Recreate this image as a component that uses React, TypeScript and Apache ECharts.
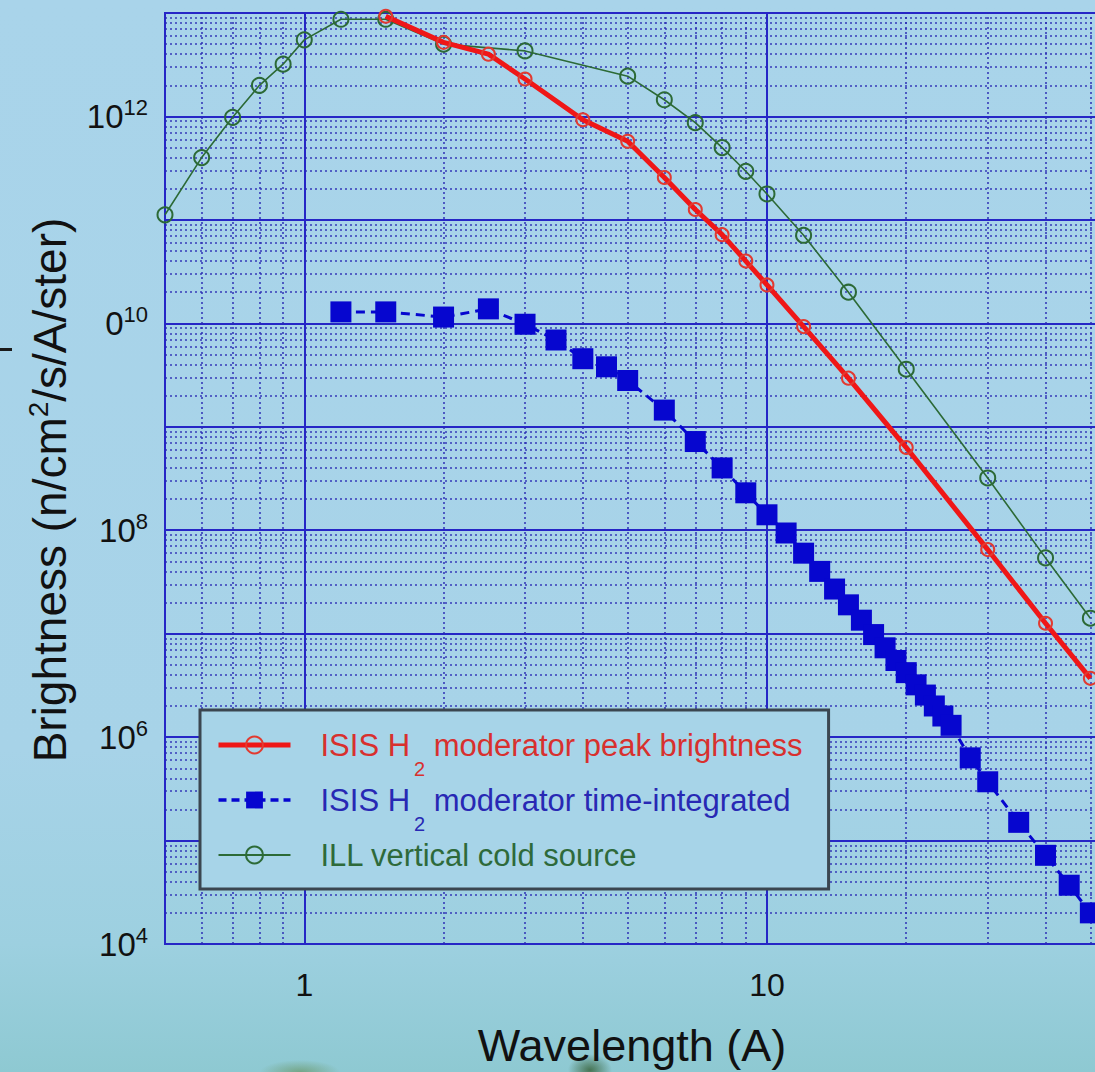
import { useEffect, useRef } from 'react';
import * as echarts from 'echarts';

// Wavelength (Å) and brightness (n/cm²/s/Å/ster) for each source
const wavelengthPeak = [1.5, 2, 2.5, 3, 4, 5, 6, 7, 8, 9, 10, 12, 15, 20, 30, 40, 50];
const brightnessPeak = [
  9.3e12, 5.2e12, 4.0e12, 2.3e12, 9.3e11, 5.75e11, 2.57e11, 1.26e11, 7.2e10, 4.0e10,
  2.35e10, 9.3e9, 2.95e9, 6.3e8, 6.5e7, 1.26e7, 3.7e6,
];

const wavelengthIntegrated = [
  1.2, 1.5, 2, 2.5, 3, 3.5, 4, 4.5, 5, 6, 7, 8, 9, 10, 11, 12, 13, 14, 15, 16, 17, 18, 19,
  20, 21, 22, 23, 24, 25, 27.5, 30, 35, 40, 45, 50,
];
const brightnessIntegrated = [
  1.29e10, 1.29e10, 1.15e10, 1.38e10, 9.8e9, 6.9e9, 4.55e9, 3.8e9, 2.8e9, 1.45e9, 7.2e8,
  4.0e8, 2.3e8, 1.41e8, 9.4e7, 6.0e7, 4.0e7, 2.7e7, 1.9e7, 1.35e7, 9.8e6, 7.3e6, 5.5e6,
  4.2e6, 3.2e6, 2.55e6, 2.0e6, 1.6e6, 1.3e6, 6.3e5, 3.7e5, 1.5e5, 7.2e4, 3.7e4, 2.0e4,
];

const wavelengthILL = [
  0.5, 0.6, 0.7, 0.8, 0.9, 1.0, 1.2, 1.5, 2, 3, 5, 6, 7, 8, 9, 10, 12, 15, 20, 30, 40, 50,
];
const brightnessILL = [
  1.12e11, 4.0e11, 9.8e11, 2.0e12, 3.2e12, 5.5e12, 8.7e12, 8.7e12, 5.0e12, 4.3e12, 2.45e12,
  1.45e12, 8.7e11, 5.0e11, 2.95e11, 1.78e11, 7.1e10, 2.0e10, 3.6e9, 3.2e8, 5.4e7, 1.41e7,
];

const seriesNames = [
  'ISIS H2 moderator peak brightness',
  'ISIS H2 moderator time-integrated',
  'ILL vertical cold source',
];

// Decade labels on the axes
const xTickValues = [1, 10];
const xTickLabels = ['1', '10'];
const yTickExponents = [4, 6, 8, 10, 12];
const yTickBases = ['10', '10', '10', '0', '10'];

// Dotted minor grid at 2..9 of each decade
const minorGridX = [0.6, 0.7, 0.8, 0.9, 2, 3, 4, 5, 6, 7, 8, 9, 20, 30, 40, 50];
const minorGridMultiples = [2, 3, 4, 5, 6, 7, 8, 9];
const minorGridDecades = [4, 5, 6, 7, 8, 9, 10, 11, 12];

const FONT = "'Liberation Sans', Arial, Helvetica, sans-serif";
const RED = '#ef1717';
const BLUE = '#0606cf';
const GREEN = '#2c6a36';
const GRID_BLUE = '#2626c6';

const pairs = (xs: number[], ys: number[]) => xs.map((x, i) => [x, ys[i]]);

const isDecade = (v: number) => Math.abs(Math.log10(v) - Math.round(Math.log10(v))) < 1e-6;

export default function App() {
  const ref = useRef<HTMLDivElement>(null);

  useEffect(() => {
    document.body.style.margin = '0';
    if (!ref.current) return;
    const chart = echarts.init(ref.current, null, { renderer: 'svg' });

    const minorY: number[] = [];
    minorGridDecades.forEach((d) =>
      minorGridMultiples.forEach((m) => minorY.push(m * Math.pow(10, d)))
    );

    chart.setOption({
      animation: false,
      backgroundColor: 'transparent',
      textStyle: { fontFamily: FONT },
      grid: {
        left: 165,
        right: 2,
        top: 13,
        bottom: 128,
        show: true,
        borderColor: GRID_BLUE,
        borderWidth: 2,
        backgroundColor: 'transparent',
      },
      xAxis: {
        type: 'log',
        logBase: 10,
        min: 0.5,
        max: 60,
        axisLine: { show: true, lineStyle: { color: GRID_BLUE, width: 2 } },
        axisTick: { show: false },
        splitLine: { show: true, lineStyle: { color: GRID_BLUE, width: 2 } },
        axisLabel: {
          margin: 25,
          fontSize: 32,
          fontFamily: FONT,
          color: '#111',
          formatter: (v: number) => {
            const i = xTickValues.findIndex((t) => Math.abs(t - v) / t < 1e-6);
            return i >= 0 ? xTickLabels[i] : '';
          },
        },
      },
      yAxis: {
        type: 'log',
        logBase: 10,
        min: 1e4,
        max: 1e13,
        axisLine: { show: true, lineStyle: { color: GRID_BLUE, width: 2 } },
        axisTick: { show: false },
        splitLine: { show: true, lineStyle: { color: GRID_BLUE, width: 2 } },
        axisLabel: {
          margin: 17,
          color: '#111',
          fontFamily: FONT,
          formatter: (v: number) => {
            if (!isDecade(v)) return '';
            const e = Math.round(Math.log10(v));
            const i = yTickExponents.indexOf(e);
            if (i < 0) return '';
            return `{b|${yTickBases[i]}}{s|${e}}`;
          },
          rich: {
            b: { fontSize: 33, lineHeight: 40, color: '#111', fontFamily: FONT },
            s: { fontSize: 22, lineHeight: 22, verticalAlign: 'top', color: '#111', fontFamily: FONT },
          },
        },
      },
      legend: {
        data: [
          { name: seriesNames[0], lineStyle: { width: 5, color: RED }, itemStyle: { color: 'rgba(0,0,0,0)', borderColor: '#e23a30', borderWidth: 2 } },
          { name: seriesNames[1], lineStyle: { width: 3.5, color: BLUE, type: [8, 5] }, itemStyle: { color: BLUE } },
          { name: seriesNames[2], lineStyle: { width: 2, color: GREEN }, itemStyle: { color: 'rgba(0,0,0,0)', borderColor: GREEN, borderWidth: 2 } },
        ],
        orient: 'vertical',
        left: 200,
        top: 710,
        z: 20,
        padding: [1, 26, 0, 16],
        itemGap: -13,
        itemWidth: 72,
        itemHeight: 21,
        backgroundColor: '#a7d4e8',
        borderColor: '#3b4650',
        borderWidth: 3,
        selectedMode: false,
        formatter: (name: string) => {
          if (name === seriesNames[0]) return '{rh|ISIS H}{rs|2}{r| moderator peak brightness}';
          if (name === seriesNames[1]) return '{bh|ISIS H}{bs|2}{b| moderator time-integrated}';
          return '{gh|ILL vertical cold source}{gs| }';
        },
        textStyle: {
          fontFamily: FONT,
          fontSize: 31,
          rich: {
            rh: { color: '#d8302e', fontSize: 31, lineHeight: 36, padding: [0, 0, 0, 25], fontFamily: FONT },
            rs: { color: '#d8302e', fontSize: 20, lineHeight: 20, padding: [48, 0, 0, 4], fontFamily: FONT },
            r: { color: '#d8302e', fontSize: 31, lineHeight: 36, fontFamily: FONT },
            bh: { color: '#2828b4', fontSize: 31, lineHeight: 36, padding: [0, 0, 0, 25], fontFamily: FONT },
            bs: { color: '#2828b4', fontSize: 20, lineHeight: 20, padding: [48, 0, 0, 4], fontFamily: FONT },
            b: { color: '#2828b4', fontSize: 31, lineHeight: 36, fontFamily: FONT },
            gh: { color: '#2e6a3a', fontSize: 31, lineHeight: 36, padding: [0, 0, 0, 25], fontFamily: FONT },
            gs: { color: '#2e6a3a', fontSize: 20, lineHeight: 20, padding: [48, 0, 0, 0], fontFamily: FONT },
          },
        },
      },
      series: [
        {
          name: 'minor-grid',
          type: 'line',
          data: [[1, 1e8]],
          showSymbol: false,
          symbol: 'none',
          lineStyle: { opacity: 0 },
          silent: true,
          z: 1,
          markLine: {
            silent: true,
            z: 1,
            symbol: ['none', 'none'],
            label: { show: false },
            lineStyle: { color: '#2a2ab4', width: 1.6, type: [2, 3], opacity: 0.9 },
            data: [
              ...minorGridX.map((v) => ({ xAxis: v })),
              ...minorY.map((v) => ({ yAxis: v })),
            ],
          },
        },
        {
          name: seriesNames[2],
          type: 'line',
          data: pairs(wavelengthILL, brightnessILL),
          symbol: 'circle',
          symbolSize: 15,
          lineStyle: { color: GREEN, width: 1.6 },
          itemStyle: { color: 'rgba(0,0,0,0)', borderColor: GREEN, borderWidth: 2 },
          z: 3,
        },
        {
          name: seriesNames[1],
          type: 'line',
          data: pairs(wavelengthIntegrated, brightnessIntegrated),
          symbol: 'rect',
          symbolSize: 21,
          lineStyle: { color: BLUE, width: 3, type: [9, 6] },
          itemStyle: { color: BLUE },
          z: 4,
        },
        {
          name: seriesNames[0],
          type: 'line',
          data: pairs(wavelengthPeak, brightnessPeak),
          symbol: 'circle',
          symbolSize: 13,
          lineStyle: { color: RED, width: 5 },
          itemStyle: { color: 'rgba(0,0,0,0)', borderColor: '#e23a30', borderWidth: 2 },
          z: 5,
        },
      ],
      graphic: [
        {
          type: 'text',
          x: 632,
          y: 1045,
          style: {
            text: 'Wavelength (A)',
            fontSize: 45,
            fontFamily: FONT,
            fill: '#111',
            align: 'center',
            verticalAlign: 'middle',
          },
        },
        {
          type: 'text',
          x: 50,
          y: 490,
          rotation: Math.PI / 2,
          style: {
            text: '{t|Brightness (n/cm}{p|2}{t|/s/A/ster)}',
            align: 'center',
            verticalAlign: 'middle',
            fill: '#111',
            rich: {
              t: { fontSize: 46, lineHeight: 52, fontFamily: FONT, fill: '#111' },
              p: { fontSize: 28, lineHeight: 28, verticalAlign: 'top', fontFamily: FONT, fill: '#111' },
            },
          },
        },
        {
          type: 'rect',
          shape: { x: 0, y: 348, width: 12, height: 3 },
          style: { fill: '#1a1a1a' },
        },
      ],
    });

    return () => chart.dispose();
  }, []);

  return (
    <div
      style={{
        width: 1095,
        height: 1072,
        overflow: 'hidden',
        background:
          'radial-gradient(ellipse 40px 12px at 300px 1072px, rgba(90,130,60,0.5), rgba(90,130,60,0) 100%),' +
          'radial-gradient(ellipse 22px 16px at 590px 1070px, rgba(40,80,30,0.7), rgba(40,80,30,0) 100%),' +
          'linear-gradient(180deg, #a9d4ea 0%, #a7d3e8 70%, #9dd0e0 88%, #8ec9d2 100%)',
      }}
    >
      <div ref={ref} style={{ width: 1130, height: 1072 }} />
    </div>
  );
}
